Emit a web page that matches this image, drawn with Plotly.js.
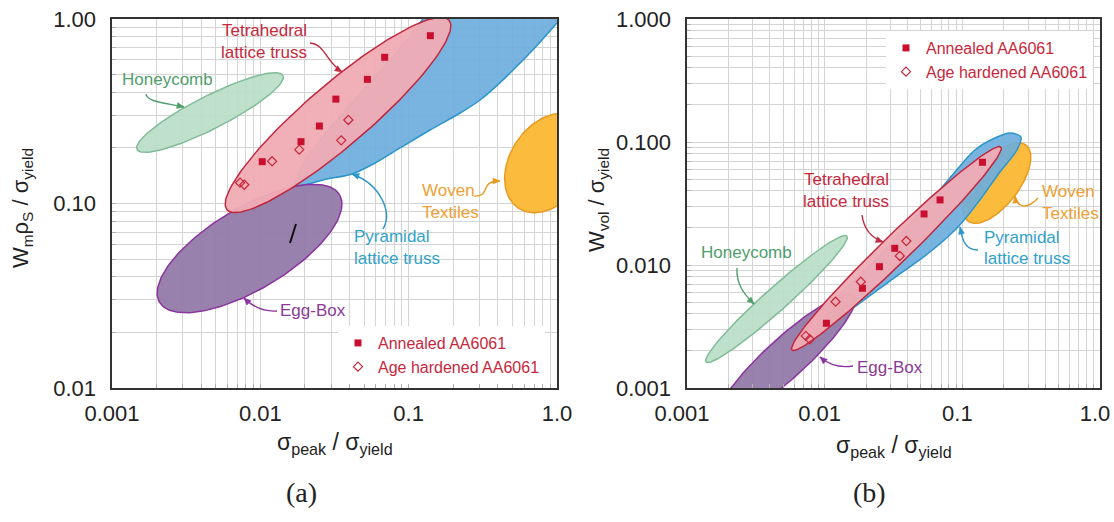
<!DOCTYPE html>
<html>
<head>
<meta charset="utf-8">
<script src="https://cdn.plot.ly/plotly-3.0.1.min.js"></script>
<style>html,body{margin:0;padding:0;background:#fff;}</style>
</head>
<body>
<div id="chart" style="width:1114px;height:522px;"></div>
<script>
// ---------------- data ----------------
// tick labels
const xTickLabels  = ['0.001', '0.01', '0.1', '1.0'];
const yTickLabelsA = ['0.01', '0.10', '1.00'];
const yTickLabelsB = ['0.001', '0.010', '0.100', '1.000'];

// measured points (sigma_peak / sigma_yield on x)
const annealedX  = [0.0103, 0.0188, 0.025, 0.0323, 0.0527, 0.0689, 0.140];
const annealedYa = [0.1685, 0.2163, 0.263, 0.368, 0.471, 0.620, 0.812];          // (a) Wm rho_s / sigma_yield
const annealedYb = [0.00336, 0.00647, 0.00969, 0.01367, 0.0260, 0.0338, 0.0684]; // (b) Wvol / sigma_yield
const ageX  = [0.0073, 0.0078, 0.0120, 0.0183, 0.0351, 0.0392];
const ageYa = [0.1296, 0.1264, 0.1694, 0.1957, 0.220, 0.2836];
const ageYb = [0.00265, 0.00249, 0.00503, 0.00731, 0.01184, 0.01567];

// material regions (ellipses): [centre, end of one semi-axis, end of conjugate semi-axis]
const honeycombA = [[0.00458, 0.3113], [0.01422, 0.494], [0.004076, 0.374]];
const eggBoxA    = [[0.00846, 0.0570], [0.0342, 0.1115], [0.00612, 0.0883]];
const wovenA     = [[0.871, 0.1658], [1.381, 0.2911], [0.532, 0.2152]];
const tetraA     = [[0.0334, 0.302], [0.187, 0.986], [0.0244, 0.405]];
// pyramidal region in (a): outline points
const pyramidalAx = [0.0174, 0.02817, 0.04153, 0.0594, 0.0875, 0.1394, 0.2221, 0.303, 0.506, 0.971, 1.55, 1.05, 0.163, 0.129, 0.0749, 0.04025, 0.02527, 0.01852];
const pyramidalAy = [0.126, 0.1358, 0.1445, 0.1658, 0.200, 0.2502, 0.3094, 0.364, 0.529, 0.928, 1.53, 2.68, 1.84, 1.051, 0.599, 0.342, 0.221, 0.152];

const honeycombB = [[0.004467, 0.005292], [0.01452, 0.0172], [0.003926, 0.00622]];
const eggBoxB    = [[0.005236, 0.001753], [0.01632, 0.0056], [0.004183, 0.002313]];
const wovenB     = [[0.1783, 0.0464], [0.2896, 0.0946], [0.2394, 0.03625]];
const tetraB     = [[0.0332, 0.01362], [0.1906, 0.0911], [0.0282, 0.01642]];
const pyramidalBx = [0.2665, 0.2491, 0.1875, 0.1342, 0.0945, 0.0582, 0.0313, 0.01805, 0.01188, 0.0085, 0.01093, 0.01805, 0.0298, 0.0492, 0.0813, 0.1234, 0.1724, 0.2217];
const pyramidalBy = [0.1098, 0.0861, 0.0570, 0.0338, 0.02076, 0.01275, 0.0077, 0.00491, 0.00344, 0.0027, 0.00473, 0.00829, 0.01454, 0.02647, 0.051, 0.0861, 0.1077, 0.1183];

// ---------------- styling ----------------
const COL = {
  red: '#c8283c',
  pinkFill: 'rgba(240,172,180,0.95)', pinkLine: '#c0283f',
  blueFill: 'rgba(108,174,220,0.92)', blueLine: '#2b95ca', blueText: '#2fa2cc',
  greenFill: 'rgba(186,221,198,0.92)', greenLine: '#80bc98', greenText: '#4f9e6c',
  purpleFill: 'rgba(146,122,168,0.95)', purpleLine: '#8b34a0', purpleText: '#8c3a96',
  orangeFill: 'rgba(251,186,56,0.97)', orangeLine: '#e99a1e', orangeText: '#f0a035'
};
const FONT = 'Arial, "Liberation Sans", Helvetica, sans-serif';
const W = 1114, H = 522;
const dom = {
  x: [112 / W, 557 / W], x2: [687 / W, 1100 / W],
  y: [1 - 388 / H, 1 - 19 / H]
};

function ellipse(def, n) {
  n = n || 160;
  const L = Math.log10;
  const cx = L(def[0][0]), cy = L(def[0][1]);
  const ux = L(def[1][0]) - cx, uy = L(def[1][1]) - cy;
  const vx = L(def[2][0]) - cx, vy = L(def[2][1]) - cy;
  const xs = [], ys = [];
  for (let i = 0; i <= n; i++) {
    const t = 2 * Math.PI * i / n;
    xs.push(Math.pow(10, cx + ux * Math.cos(t) + vx * Math.sin(t)));
    ys.push(Math.pow(10, cy + uy * Math.cos(t) + vy * Math.sin(t)));
  }
  return {x: xs, y: ys};
}
function region(xy, fill, line, xa, ya, spline) {
  return {type: 'scatter', mode: 'lines', x: xy.x, y: xy.y, xaxis: xa, yaxis: ya,
    fill: 'toself', fillcolor: fill, line: {color: line, width: 1.5, shape: spline ? 'spline' : 'linear', smoothing: 0.9},
    hoverinfo: 'skip', showlegend: false};
}
function closed(xs, ys) { return {x: xs.concat([xs[0]]), y: ys.concat([ys[0]])}; }

function axis(domain, range, labels, anchor, standoff, shift) {
  const major = labels.map(parseFloat);
  const minor = [];
  major.slice(0, -1).forEach(v => { for (let k = 2; k <= 9; k++) minor.push(k * v); });
  return {type: 'log', domain: domain, range: range, anchor: anchor,
    tickmode: 'array', tickvals: major, ticktext: labels,
    showgrid: true, gridcolor: '#d4d4d4', gridwidth: 1,
    ticks: 'inside', ticklen: 4, tickcolor: '#b0b0b0', tickwidth: 1,
    minor: {tickmode: 'array', tickvals: minor, showgrid: true, gridcolor: '#d4d4d4', gridwidth: 1,
      ticks: 'inside', ticklen: 4, tickcolor: '#b0b0b0', tickwidth: 1},
    showline: true, linecolor: '#333', linewidth: 1.6, mirror: true,
    zeroline: false, fixedrange: true, automargin: false,
    ticklabelstandoff: standoff, ticklabelshift: shift || 0, ticklabeloverflow: 'allow',
    tickfont: {family: FONT, size: 22, color: '#222'}};
}

// ---------------- traces ----------------
const traces = [];
// panel (a)
traces.push(region(ellipse(honeycombA), COL.greenFill, COL.greenLine, 'x', 'y'));
traces.push(region(ellipse(wovenA), COL.orangeFill, COL.orangeLine, 'x', 'y'));
traces.push(region(closed(pyramidalAx, pyramidalAy), COL.blueFill, COL.blueLine, 'x', 'y', true));
traces.push(region(ellipse(eggBoxA), COL.purpleFill, COL.purpleLine, 'x', 'y'));
traces.push(region(ellipse(tetraA), COL.pinkFill, COL.pinkLine, 'x', 'y'));
traces.push({type: 'scatter', mode: 'markers', x: annealedX, y: annealedYa, xaxis: 'x', yaxis: 'y',
  name: 'Annealed AA6061', legend: 'legend',
  marker: {symbol: 'square', size: 7, color: '#c8102e'}, hoverinfo: 'x+y'});
traces.push({type: 'scatter', mode: 'markers', x: ageX, y: ageYa, xaxis: 'x', yaxis: 'y',
  name: 'Age hardened AA6061', legend: 'legend',
  marker: {symbol: 'diamond-open', size: 7, color: '#c8283c', line: {width: 1.2}}, hoverinfo: 'x+y'});
// panel (b)
traces.push(region(ellipse(honeycombB), COL.greenFill, COL.greenLine, 'x2', 'y2'));
traces.push(region(ellipse(wovenB), COL.orangeFill, COL.orangeLine, 'x2', 'y2'));
traces.push(region(closed(pyramidalBx, pyramidalBy), COL.blueFill, COL.blueLine, 'x2', 'y2', true));
traces.push(region(ellipse(eggBoxB), COL.purpleFill, COL.purpleLine, 'x2', 'y2'));
traces.push(region(ellipse(tetraB), COL.pinkFill, COL.pinkLine, 'x2', 'y2'));
traces.push({type: 'scatter', mode: 'markers', x: annealedX, y: annealedYb, xaxis: 'x2', yaxis: 'y2',
  name: 'Annealed AA6061', legend: 'legend2',
  marker: {symbol: 'square', size: 7, color: '#c8102e'}, hoverinfo: 'x+y'});
traces.push({type: 'scatter', mode: 'markers', x: ageX, y: ageYb, xaxis: 'x2', yaxis: 'y2',
  name: 'Age hardened AA6061', legend: 'legend2',
  marker: {symbol: 'diamond-open', size: 7, color: '#c8283c', line: {width: 1.2}}, hoverinfo: 'x+y'});

// ---------------- labels & connectors ----------------
const annotations = [], shapes = [];
function label(sub, x, y, text, color, anchor) {
  annotations.push({xref: sub[0] + ' domain', yref: sub[1] + ' domain', x: x, y: y, text: text,
    showarrow: false, xanchor: anchor || 'center', yanchor: 'middle', align: anchor || 'center',
    font: {family: FONT, size: 17, color: color}});
}
// curved connector (cubic Bezier in axis-domain fractions) with a small filled arrow head
function connector(sub, p, color) {
  shapes.push({type: 'path', xref: sub[0] + ' domain', yref: sub[1] + ' domain',
    path: 'M' + p[0] + ',' + p[1] + ' C' + p[2] + ',' + p[3] + ' ' + p[4] + ',' + p[5] + ' ' + p[6] + ',' + p[7],
    line: {color: color, width: 1.4}, layer: 'above'});
  const w = (dom[sub[0]][1] - dom[sub[0]][0]) * W, h = (dom.y[1] - dom.y[0]) * H;
  let dx = (p[6] - p[4]) * w, dy = (p[7] - p[5]) * h;
  const len = Math.hypot(dx, dy); dx /= len; dy /= len;
  const ex = p[6] * w, ey = p[7] * h, bx = ex - 7 * dx, by = ey - 7 * dy;
  const qx = -dy * 3, qy = dx * 3;
  const pts = [[ex, ey], [bx + qx, by + qy], [bx - qx, by - qy]].map(q => (q[0] / w) + ',' + (q[1] / h));
  shapes.push({type: 'path', xref: sub[0] + ' domain', yref: sub[1] + ' domain',
    path: 'M' + pts[0] + ' L' + pts[1] + ' L' + pts[2] + ' Z',
    fillcolor: color, line: {color: color, width: 0.5}, layer: 'above'});
}
const A = ['x', 'y'], B = ['x2', 'y2'];
// panel (a)
label(A, 0.3416, 0.9675, 'Tetrahedral', COL.red);
label(A, 0.3416, 0.9079, 'lattice truss', COL.red);
connector(A, [0.4449, 0.935, 0.4787, 0.9322, 0.4809, 0.8835, 0.5169, 0.8564], COL.pinkLine);
label(A, 0.1236, 0.8347, 'Honeycomb', COL.greenText);
connector(A, [0.0764, 0.7967, 0.0787, 0.7751, 0.1191, 0.7724, 0.1618, 0.7615], COL.greenText);
label(A, 0.5393, 0.4106, 'Pyramidal', COL.blueText, 'left');
label(A, 0.5393, 0.3510, 'lattice truss', COL.blueText, 'left');
connector(A, [0.609, 0.4309, 0.6315, 0.477, 0.6022, 0.5528, 0.5393, 0.5799], COL.blueLine);
label(A, 0.692, 0.5352, 'Woven', COL.orangeText, 'left');
label(A, 0.692, 0.4756, 'Textiles', COL.orangeText, 'left');
connector(A, [0.813, 0.520, 0.8539, 0.5176, 0.8225, 0.561, 0.8719, 0.561], COL.orangeLine);
label(A, 0.4517, 0.2087, 'Egg-Box', COL.purpleText);
connector(A, [0.3708, 0.2087, 0.3393, 0.206, 0.3146, 0.2222, 0.2966, 0.2439], COL.purpleLine);
shapes.push({type: 'line', xref: 'x domain', yref: 'y domain', x0: 0.400, y0: 0.393, x1: 0.4135, y1: 0.4444,
  line: {color: '#111', width: 2}, layer: 'above'});
// panel (b)
label(B, 0.385, 0.5650, 'Tetrahedral', COL.red);
label(B, 0.385, 0.5054, 'lattice truss', COL.red);
connector(B, [0.4237, 0.4688, 0.4286, 0.4282, 0.4479, 0.4065, 0.4746, 0.3957], COL.pinkLine);
label(B, 0.1429, 0.3659, 'Honeycomb', COL.greenText);
connector(B, [0.1211, 0.3252, 0.1186, 0.2791, 0.1404, 0.252, 0.1622, 0.2276], COL.greenText);
label(B, 0.7143, 0.4092, 'Pyramidal', COL.blueText, 'left');
label(B, 0.7143, 0.3496, 'lattice truss', COL.blueText, 'left');
connector(B, [0.7046, 0.374, 0.6683, 0.374, 0.6659, 0.4119, 0.661, 0.4363], COL.blueLine);
label(B, 0.8547, 0.5312, 'Woven', COL.orangeText, 'left');
label(B, 0.8547, 0.4716, 'Textiles', COL.orangeText, 'left');
connector(B, [0.8499, 0.5149, 0.8184, 0.477, 0.7966, 0.4959, 0.7942, 0.5203], COL.orangeLine);
label(B, 0.4915, 0.0569, 'Egg-Box', COL.purpleText);
connector(B, [0.4019, 0.0596, 0.3705, 0.0542, 0.3414, 0.065, 0.322, 0.084], COL.purpleLine);

// axis titles and panel labels
function paperText(px, py, text, size, angle, family) {
  annotations.push({xref: 'paper', yref: 'paper', x: px / W, y: 1 - py / H, text: text, showarrow: false,
    xanchor: 'center', yanchor: 'middle', textangle: angle || 0,
    font: {family: family || FONT, size: size, color: '#222'}});
}
paperText(334.5, 443, 'σ<sub>peak</sub> / σ<sub>yield</sub>', 23);
paperText(893.5, 446, 'σ<sub>peak</sub> / σ<sub>yield</sub>', 23);
paperText(22, 208, 'W<sub>m</sub>ρ<sub>S</sub> / σ<sub>yield</sub>', 22, -90);
paperText(598, 200, 'W<sub>vol</sub> / σ<sub>yield</sub>', 22, -90);
paperText(301, 492, '(a)', 28, 0, '"Liberation Serif", "Times New Roman", serif');
paperText(869, 492, '(b)', 28, 0, '"Liberation Serif", "Times New Roman", serif');

const legendStyle = {xanchor: 'left', yanchor: 'top', bgcolor: '#fff', borderwidth: 0,
  font: {family: FONT, size: 16, color: COL.red}, itemwidth: 30, tracegroupgap: 0};
const layout = {
  width: W, height: H, margin: {l: 0, r: 0, t: 0, b: 0},
  paper_bgcolor: '#fff', plot_bgcolor: '#fff',
  font: {family: FONT, color: '#222'},
  xaxis: axis(dom.x, [-3, 0], xTickLabels, 'y', 5, 0),
  yaxis: axis(dom.y, [-2, 0], yTickLabelsA, 'x', 10, 0),
  xaxis2: axis(dom.x2, [-3, 0], xTickLabels, 'y2', 5, -5),
  yaxis2: axis(dom.y, [-3, 0], yTickLabelsB, 'x2', 10, 0),
  legend: Object.assign({x: 338 / W, y: 1 - 326 / H}, legendStyle),
  legend2: Object.assign({x: 886 / W, y: 1 - 31 / H}, legendStyle),
  showlegend: true,
  annotations: annotations,
  shapes: shapes
};
Plotly.newPlot('chart', traces, layout, {staticPlot: true, displayModeBar: false});
</script>
</body>
</html>
